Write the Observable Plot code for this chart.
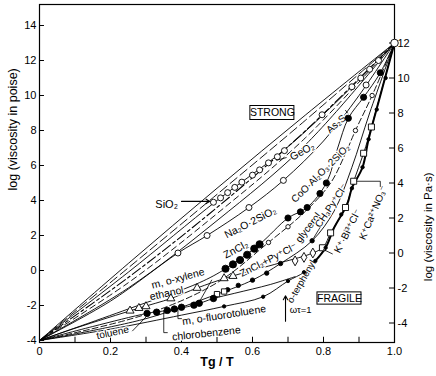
<!DOCTYPE html>
<html><head><meta charset="utf-8">
<script src="https://cdn.jsdelivr.net/npm/d3@7"></script>
<script src="https://cdn.jsdelivr.net/npm/@observablehq/plot@0.6"></script>
<style>
html,body{margin:0;padding:0;background:#fff;}
#chart svg{display:block;}
</style></head><body><div id="chart"></div>
<script>
// ---- axis ticks ----
const leftTicks = [-4,-2,0,2,4,6,8,10,12,14];          // log poise
const rightTicksPaS = [-4,-2,0,2,4,6,8,10,12];        // log Pa·s
const xTicks = [0,0.2,0.4,0.6,0.8,1.0];
const xMinorTicks = [0.1,0.3,0.5,0.7,0.9];

// ---- curves: [Tg/T, log(viscosity in poise)] ----
const strongTop   = [[0,-4],[0.25,0.4],[0.5,4.7],[0.75,8.9],[1,13]];
const strongDash  = [[0,-4],[0.25,0.15],[0.5,4.35],[0.75,8.6],[1,13]];
const sio2Line    = [[0,-4],[0.25,-0.1],[0.5,4.0],[0.69,6.9],[0.85,9.9],[1,13]];
const dashDotLine = [[0,-4],[0.25,-0.4],[0.5,3.6],[0.75,8.0],[1,13]];
const geo2Line    = [[0,-4],[0.25,-0.7],[0.5,3.25],[0.75,7.6],[1,13]];
const as2s3Line   = [[0,-4],[0.25,-1.0],[0.5,2.85],[0.75,7.2],[1,13]];
const na2oLine    = [[0,-4],[0.2,-1.75],[0.39,1.0],[0.472,2.0],[0.59,3.6],[0.687,5.15],[0.8,7.4],[0.9,10.0],[1,13]];
const cooLine     = [[0,-4],[0.25,-2.2],[0.45,-0.7],[0.524,0.1],[0.62,1.5],[0.7,3.0],[0.754,3.6],[0.808,5.0],[0.84,7.0],[0.87,8.7],[0.913,9.9],[0.96,11.3],[1,13]];
const glycerolLine= [[0,-4],[0.3,-2.5],[0.5,-0.7],[0.645,1.6],[0.75,3.4],[0.82,5.0],[0.86,6.6],[0.89,8.0],[0.937,10.0],[1,13]];
const pyLine      = [[0,-4],[0.3,-2.75],[0.5,-1.35],[0.6,-0.55],[0.679,0.4],[0.768,1.7],[0.83,3.4],[0.88,5.9],[0.93,9.0],[1,13]];
const xyleneLine  = [[0,-4],[0.1,-3.3],[0.28,-2.15],[0.37,-1.6],[0.444,-1.0],[0.53,-0.4],[0.68,0.45],[0.77,1.0],[0.8,1.35],[0.82,2.15],[0.862,3.6],[0.885,5.1],[0.913,6.7],[0.935,8.2],[0.965,10.4],[1,13]];
const otpLine     = [[0,-4],[0.2,-3.35],[0.4,-2.55],[0.52,-2.05],[0.63,-1.5],[0.7,-0.6],[0.745,-0.1],[0.777,0.55],[0.806,1.3]];
const kcnLine     = [[0.777,0.55],[0.806,1.3],[0.83,2.45],[0.867,3.8],[0.88,4.7],[0.91,5.9],[0.927,7.5],[0.96,10.0],[1,13]];
const lowerLine   = [[0,-4],[0.15,-3.2],[0.303,-2.45],[0.36,-2.28],[0.435,-1.98],[0.49,-1.6],[0.55,-1.3],[0.65,-0.8],[0.72,-0.35]];

// ---- data markers ----
const endPoint     = [[1,13]];
const sio2Pts      = [[0.49,3.9],[0.51,4.15],[0.53,4.45],[0.55,4.75],[0.57,5.05],[0.6,5.45],[0.62,5.75],[0.645,6.15],[0.67,6.5],[0.69,6.85],[0.88,10.5],[0.905,11.0],[0.93,11.5],[0.955,12.0]];
const geo2Pts      = [[0.796,8.9]];
const na2oPts      = [[0.39,1.0],[0.472,2.0],[0.59,3.6],[0.687,5.15],[0.92,10.6]];
const zncl2Pts     = [[0.524,0.1],[0.545,0.35],[0.565,0.6],[0.585,0.9],[0.605,1.25],[0.62,1.5]];
const cooPts       = [[0.70,3.0],[0.735,3.35],[0.754,3.6],[0.79,4.4],[0.808,5.0],[0.87,8.7],[0.913,9.9],[0.96,11.3]];
const glycerolPts  = [[0.645,1.6],[0.7,2.5],[0.89,8.0],[0.937,10.0]];
const pyPts        = [[0.5,-1.35],[0.53,-1.1],[0.56,-0.85],[0.6,-0.55],[0.64,-0.15],[0.679,0.4],[0.768,1.7]];
const pySquares    = [[0.5,-1.35],[0.52,-1.2]];
const xyleneTri    = [[0.255,-2.3],[0.28,-2.15],[0.3,-2.05],[0.37,-1.6],[0.444,-1.0],[0.52,-0.45],[0.545,-0.32]];
const kbiSquares   = [[0.797,1.3],[0.82,2.15],[0.862,3.6],[0.885,5.1],[0.913,6.7],[0.935,8.2]];
const diamonds     = [[0.72,0.55],[0.745,0.75],[0.77,1.0]];
const otpPts       = [[0.52,-2.05],[0.63,-1.5],[0.7,-0.6],[0.745,-0.1],[0.777,0.55],[0.806,1.3],[0.85,3.2],[0.88,4.7],[0.91,5.9],[0.927,7.5],[0.95,9.2],[0.975,11.0]];
const lowerPts     = [[0.303,-2.45],[0.33,-2.38],[0.36,-2.28],[0.38,-2.2],[0.4,-2.1],[0.435,-1.98],[0.45,-1.87],[0.49,-1.6]];

// ---- curve labels ----
const labels = [
  {t:"SiO₂", x:0.358, y:3.75, r:0, a:"middle", s:11},
  {t:"GeO₂", x:0.74, y:6.8, r:-28, a:"middle", s:10.5},
  {t:"As₂S₃", x:0.84, y:8.45, r:-42, a:"middle", s:10},
  {t:"Na₂O·2SiO₂", x:0.594, y:2.74, r:-27, a:"middle", s:10.5},
  {t:"CoO·Al₂O₃·2SiO₂", x:0.792, y:5.55, r:-45, a:"middle", s:10},
  {t:"ZnCl₂", x:0.553, y:1.2, r:-28, a:"middle", s:10.5},
  {t:"glycerol", x:0.757, y:2.45, r:-52, a:"middle", s:10},
  {t:"CH₃Py⁺Cl⁻", x:0.822, y:3.7, r:-56, a:"middle", s:10},
  {t:"ZnCl₂+Py⁺Cl⁻", x:0.645, y:0.6, r:-27, a:"middle", s:10},
  {t:"K⁺·Bi³⁺Cl⁻", x:0.868, y:2.25, r:-63, a:"middle", s:10},
  {t:"K⁺Ca²⁺NO₃⁻", x:0.94, y:3.3, r:-67, a:"middle", s:10},
  {t:"o-terphenyl", x:0.738, y:-0.63, r:-60, a:"middle", s:9.5},
  {t:"m, o-xylene", x:0.39, y:-0.46, r:-15, a:"middle", s:10.5},
  {t:"ethanol", x:0.358, y:-1.31, r:-12, a:"middle", s:10.5},
  {t:"m, o-fluorotoluene", x:0.52, y:-2.55, r:-9, a:"middle", s:10.5},
  {t:"chlorobenzene", x:0.47, y:-3.6, r:-6, a:"middle", s:10.5},
  {t:"toluene", x:0.206, y:-3.55, r:-12, a:"middle", s:10},
  {t:"ωτ=1", x:0.705, y:-2.25, r:0, a:"start", s:9.5}
];
const boxes = [
  {t:"STRONG", x:0.656, y:9.0, x1:0.594, x2:0.718, y1:8.6, y2:9.4},
  {t:"FRAGILE", x:0.845, y:-1.6, x1:0.783, x2:0.907, y1:-1.95, y2:-1.25}
];
const leaders = [
  [[0.485,-0.55],[0.45,-1.8]],
  [[0.39,-2.15],[0.39,-2.75],[0.4,-2.75]],
  [[0.35,-2.3],[0.35,-3.55],[0.36,-3.55]],
  [[0.262,-3.45],[0.305,-2.55]],
  [[0.895,5.1],[0.96,5.1],[0.96,4.8]],
  [[0.80,1.2],[0.825,0.95]],
  [[0.79,2.45],[0.772,1.85]],
  [[0.695,6.45],[0.668,6.3]],
  [[0.862,9.15],[0.868,9.0]]
];
const arrows = [
  {x1:0.40, y1:3.95, x2:0.48, y2:3.95},
  {x1:0.693, y1:-2.9, x2:0.693, y2:-1.45}
];

const font = "'Liberation Sans', Arial, 'DejaVu Sans', sans-serif";
const yDom = [-4.114, 15.2];
const X = d => d[0], Y = d => d[1];
const ln = (data, o = {}) => Plot.line(data, {x: X, y: Y, curve: "catmull-rom", stroke: "black", strokeWidth: 0.9, ...o});
const dt = (data, o = {}) => Plot.dot(data, {x: X, y: Y, r: 2.8, fill: "white", stroke: "black", strokeWidth: 0.9, ...o});

const marks = [
  Plot.frame({stroke: "black", strokeWidth: 1.2}),
  // inward ticks
  Plot.ruleY(leftTicks, {y: d => d, x1: 0, x2: 0.014, stroke: "black"}),
  Plot.ruleY(rightTicksPaS, {y: d => d + 1, x1: 0.986, x2: 1, stroke: "black"}),
  Plot.ruleX(xTicks.concat(xMinorTicks), {x: d => d, y1: yDom[0], y2: yDom[0] + 0.3, stroke: "black"}),
  // tick labels
  Plot.text(leftTicks, {x: 0, y: d => d, text: d => String(d), textAnchor: "end", dx: -3, fontSize: 11}),
  Plot.text(rightTicksPaS, {x: 1, y: d => d + 1, text: d => String(d), textAnchor: "start", dx: 3, fontSize: 11}),
  Plot.text(xTicks, {x: d => d, y: yDom[0], text: d => d === 0 ? "0" : d.toFixed(1), dy: 9, fontSize: 11}),
  // axis titles
  Plot.text(["Tg / T"], {frameAnchor: "bottom", dy: 23, fontSize: 12.5, fontWeight: "bold", text: d => d}),
  Plot.text(["log (viscosity in poise)"], {frameAnchor: "left", dx: -27, dy: 17, rotate: -90, fontSize: 12.5, text: d => d}),
  Plot.text(["log (viscosity in Pa·s)"], {frameAnchor: "right", dx: 34, dy: -1, rotate: -90, fontSize: 11.5, text: d => d}),
  // curves
  ln(strongTop),
  ln(strongDash, {strokeDasharray: "9,4"}),
  ln(sio2Line),
  ln(dashDotLine, {strokeDasharray: "10,3,3,3", strokeWidth: 1.1}),
  ln(geo2Line, {strokeDasharray: "6,4"}),
  ln(as2s3Line),
  ln(na2oLine),
  ln(cooLine),
  ln(glycerolLine, {strokeDasharray: "6,3"}),
  ln(pyLine),
  ln(xyleneLine),
  ln(otpLine),
  ln(kcnLine, {strokeWidth: 2}),
  ln(lowerLine),
  // labels (white halo, drawn under markers)
  ...labels.map(l => Plot.text([l], {x: "x", y: "y", text: "t", rotate: l.r, textAnchor: l.a, fontSize: l.s, stroke: "white", strokeWidth: 2.5, fill: "black"})),
  // markers
  dt(sio2Pts, {r: 3}),
  dt(geo2Pts, {r: 3}),
  dt(na2oPts, {r: 3}),
  dt(zncl2Pts, {r: 3.6, fill: "black"}),
  dt(cooPts, {r: 3.1, fill: "black"}),
  dt(glycerolPts, {r: 2.2}),
  dt(pyPts, {r: 2.2, fill: "black"}),
  dt(pySquares, {symbol: "square", r: 3}),
  dt(xyleneTri, {symbol: "triangle", r: 3}),
  dt(kbiSquares, {symbol: "square", r: 3.4}),
  dt(diamonds, {symbol: "diamond", r: 3}),
  dt(otpPts, {r: 1.7, fill: "black"}),
  dt(lowerPts, {r: 3.2, fill: "black"}),
  dt(endPoint, {r: 3.8}),
  // leaders & arrows
  ...leaders.map(l => Plot.line(l, {x: X, y: Y, stroke: "black", strokeWidth: 0.8})),
  Plot.arrow(arrows, {x1: "x1", y1: "y1", x2: "x2", y2: "y2", stroke: "black", strokeWidth: 1.1, headLength: 6}),
  Plot.rect(boxes, {x1: "x1", x2: "x2", y1: "y1", y2: "y2", fill: "white", stroke: "black", strokeWidth: 1}),
  Plot.text(boxes, {x: "x", y: "y", text: "t", fontSize: 10.5})
];

const chart = Plot.plot({
  width: 436, height: 376,
  marginLeft: 39, marginRight: 42, marginTop: 4, marginBottom: 34,
  x: {domain: [0, 1], axis: null},
  y: {domain: yDom, axis: null},
  style: {fontFamily: font, background: "white", color: "black", overflow: "visible"},
  marks
});
document.getElementById("chart").appendChild(chart);
</script>
</body></html>
